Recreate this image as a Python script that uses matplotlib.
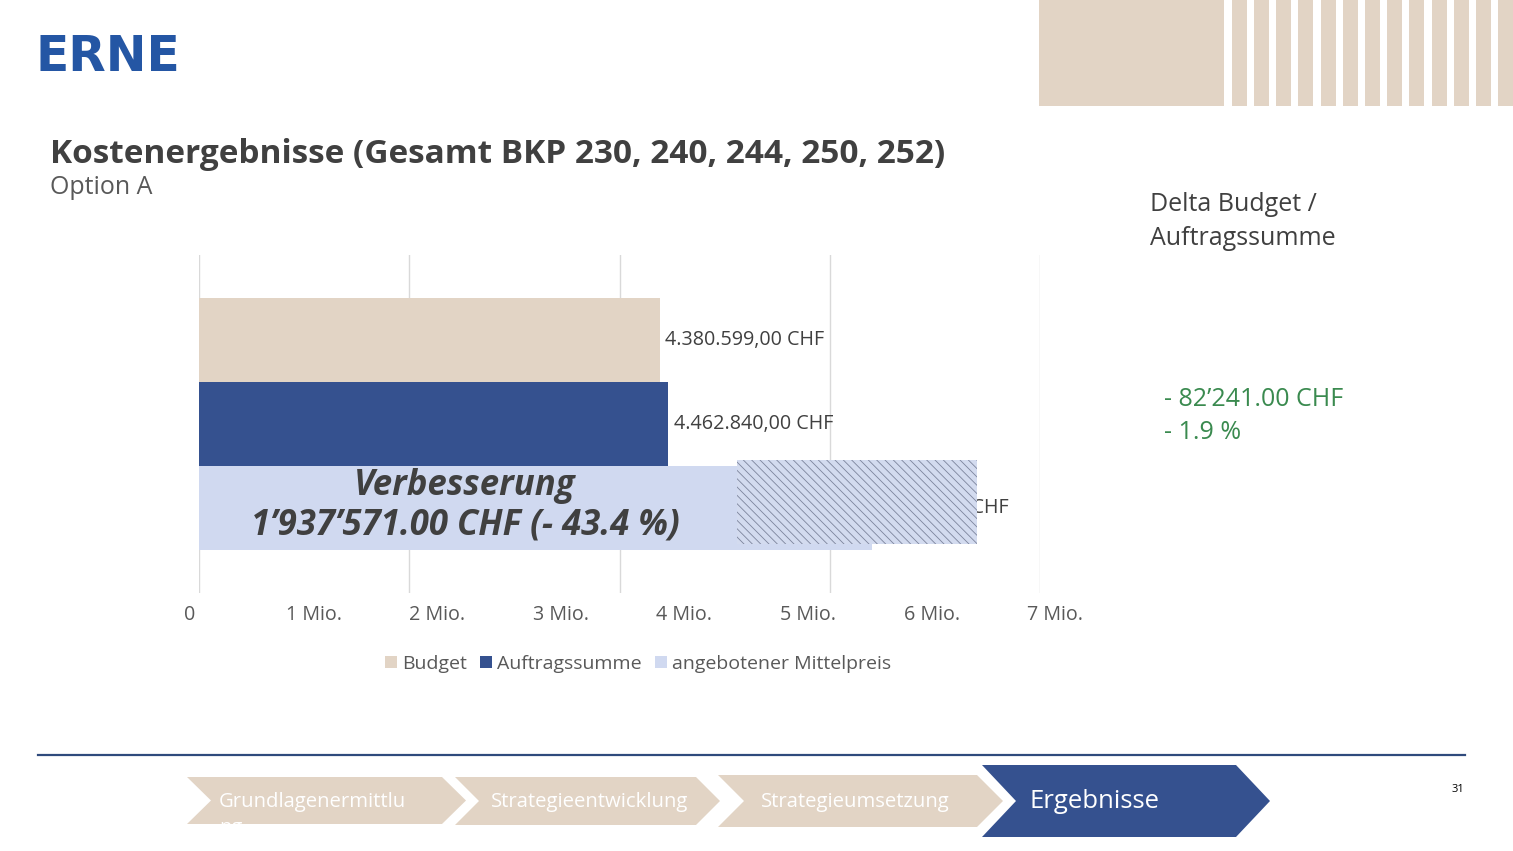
import matplotlib
matplotlib.use("Agg")
import matplotlib.pyplot as plt
from matplotlib.patches import Rectangle, Polygon, Patch

plt.rcParams['font.family'] = ['Open Sans', 'DejaVu Sans']
plt.rcParams['hatch.linewidth'] = 0.6

# data
series = ['Budget', 'Auftragssumme', 'angebotener Mittelpreis']
values = [4380599.00, 4462840.00, 6400411.00]
value_labels = ['4.380.599,00 CHF', '4.462.840,00 CHF', '6.400.411 CHF']
tick_labels = ['0', '1 Mio.', '2 Mio.', '3 Mio.', '4 Mio.', '5 Mio.', '6 Mio.', '7 Mio.']
grid_ticks = [0, 2e6, 4e6, 6e6, 8e6]
steps = ['Grundlagenermittlu', 'Strategieentwicklung', 'Strategieumsetzung', 'Ergebnisse']

beige = '#E2D4C5'
navy = '#35518F'
light = '#D0D9F0'
colors = [beige, navy, light]
dark = '#404040'

W, H = 1513, 851
fig = plt.figure(figsize=(W / 100, H / 100), dpi=100)

# background layer in pixel coordinates
bg = fig.add_axes([0, 0, 1, 1])
bg.set_xlim(0, W)
bg.set_ylim(H, 0)
bg.axis('off')

# top right decoration
bg.add_patch(Rectangle((1039, 0), 185, 106, facecolor=beige, edgecolor='none'))
for i in range(13):
    bg.add_patch(Rectangle((1231.7 + i * 22.2, 0), 15, 106, facecolor=beige, edgecolor='none'))

# logo + titles
bg.text(36, 57, 'ERNE', family='DejaVu Sans', weight='bold', fontsize=35,
        color='#2456A4', va='center', ha='left')
bg.text(50, 163, 'Kostenergebnisse (Gesamt BKP 230, 240, 244, 250, 252)',
        fontsize=24, weight='bold', color=dark, va='baseline')
bg.text(50, 194, 'Option A', fontsize=18, color='#595959', va='baseline')

bg.text(1150, 211, 'Delta Budget /', fontsize=18, color=dark, va='baseline')
bg.text(1150, 245, 'Auftragssumme', fontsize=18, color=dark, va='baseline')
bg.text(1164, 406, '- 82\u2019241.00 CHF', fontsize=18, color='#3A8A4F', va='baseline')
bg.text(1164, 439, '- 1.9 %', fontsize=18, color='#3A8A4F', va='baseline')

# footer
bg.plot([38, 1465], [755, 755], color='#2F4A7C', lw=1.6)
bg.text(1458, 790, '31', fontsize=8, color='black', ha='center', va='center')

chevrons = [(187, 466, 777, 824, 24, beige), (455, 720, 777, 825, 24, beige),
            (718, 1003, 775, 827, 26, beige), (982, 1270, 765, 837, 34, navy)]
text_pos = [(219, 'left', 14.6), (590, 'center', 14.6), (855, 'center', 14.6), (1095, 'center', 18.5)]
for (x0, x1, t, b, d, c), step, (tx, ha, fs) in zip(chevrons, steps, text_pos):
    m = (t + b) / 2
    poly = Polygon([(x0, t), (x1 - d, t), (x1, m), (x1 - d, b), (x0, b), (x0 + d, m)],
                   closed=True, facecolor=c, edgecolor='none')
    bg.add_patch(poly)
    bg.text(tx, m + 1, step, fontsize=fs, color='white', ha=ha, va='center')
    if step == 'Grundlagenermittlu':
        rest = bg.text(tx, m + 28, 'ng', fontsize=fs, color='white', ha=ha, va='center')
        rest.set_clip_path(poly)

# chart
ax = fig.add_axes([199 / W, (H - 593) / H, 841 / W, 338 / H])
ypos = range(len(values))
ax.barh(ypos, values, height=1.0, color=colors, zorder=2)
ax.set_xlim(0, 8e6)
ax.set_ylim(3.01, -1.01)
ax.set_xticks(grid_ticks)
ax.set_xticklabels([])
ax.set_yticks([])
ax.tick_params(length=0)
ax.grid(axis='x', color='#D9D9D9', lw=1, zorder=0)
for s in ax.spines.values():
    s.set_visible(False)

for y, v, lab in zip(ypos, values, value_labels):
    ax.annotate(lab, (v, y), xytext=(4, 0), textcoords='offset points',
                va='center', ha='left', fontsize=14.2, color=dark, zorder=3)

# hatched overlay and note
ax.add_patch(Rectangle((5.12e6, 1.43), 2.28e6, 1.0, facecolor='#D3DBEF',
                       edgecolor='#7C849C', lw=0, hatch='\\\\\\\\', zorder=4))
ax.text(2.53e6, 1.74, 'Verbesserung', ha='center', va='center', fontsize=25,
        weight='bold', style='italic', color=dark, zorder=5)
ax.text(2.53e6, 2.21, '1\u2019937\u2019571.00 CHF (- 43.4 %)', ha='center', va='center',
        fontsize=25, weight='bold', style='italic', color=dark, zorder=5)

# axis labels spread as in the reference
for i, lab in enumerate(tick_labels):
    bg.text(190 + i * 123.6, 615, lab, fontsize=14.2, color='#595959', ha='center', va='center')

handles = [Patch(facecolor=c, edgecolor='none') for c in colors]
fig.legend(handles, series, loc='center', bbox_to_anchor=(638 / W, 1 - 664 / H), ncol=3,
           frameon=False, fontsize=14, handlelength=0.6, handleheight=0.6,
           handletextpad=0.25, columnspacing=0.7, labelcolor='#595959')

fig.savefig('out.png', dpi=100)
